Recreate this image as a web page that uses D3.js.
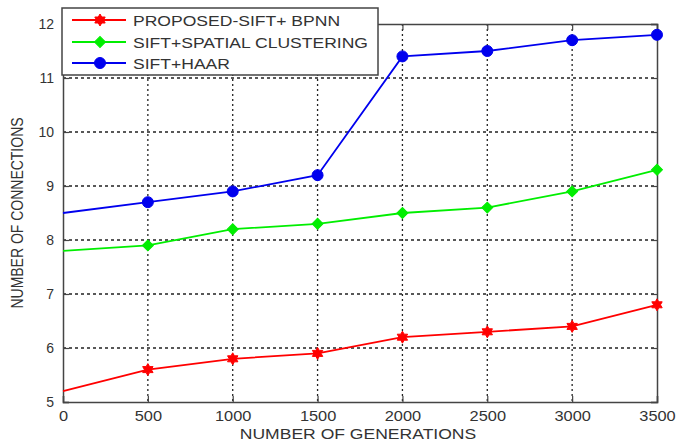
<!DOCTYPE html>
<html><head><meta charset="utf-8">
<script src="https://cdn.jsdelivr.net/npm/d3@7"></script>
<style>body{margin:0;background:#fff}svg{display:block}text{font-family:"Liberation Sans",Arial,sans-serif}</style>
</head><body>
<svg id="c" width="676" height="443"></svg>
<script>
const generations = [0, 500, 1000, 1500, 2000, 2500, 3000, 3500];
const proposedSiftBpnn = [5.2, 5.6, 5.8, 5.9, 6.2, 6.3, 6.4, 6.8];
const siftSpatialClustering = [7.8, 7.9, 8.2, 8.3, 8.5, 8.6, 8.9, 9.3];
const siftHaar = [8.5, 8.7, 8.9, 9.2, 11.4, 11.5, 11.7, 11.8];
const xTicks = [0, 500, 1000, 1500, 2000, 2500, 3000, 3500];
const yTicks = [5, 6, 7, 8, 9, 10, 11, 12];
const seriesNames = ["PROPOSED-SIFT+ BPNN", "SIFT+SPATIAL CLUSTERING", "SIFT+HAAR"];
const seriesColors = ["#ff0000", "#00ee00", "#0000ee"];
const seriesMarkers = ["hexagram", "diamond", "circle"];
const seriesValues = [proposedSiftBpnn, siftSpatialClustering, siftHaar];

const svg = d3.select("#c");
const L = 63, R = 657, T = 24, B = 402;
const SX = 1.17; // horizontal text stretch seen in the reference
const x = d3.scaleLinear().domain([0, 3500]).range([L, R]);
const y = d3.scaleLinear().domain([5, 12]).range([B, T]);
const axisCol = "#444";
const textCol = "#333";

// grid
svg.append("g").selectAll("line").data(xTicks.slice(1, -1)).join("line")
  .attr("x1", d => x(d)).attr("x2", d => x(d)).attr("y1", T).attr("y2", B)
  .attr("stroke", "#222").attr("stroke-width", 1.3).attr("stroke-dasharray", "2,3");
svg.append("g").selectAll("line").data(yTicks.slice(1, -1)).join("line")
  .attr("x1", L).attr("x2", R).attr("y1", d => y(d)).attr("y2", d => y(d))
  .attr("stroke", "#222").attr("stroke-width", 1.3).attr("stroke-dasharray", "3,3");

// axes
const xa = svg.append("g").attr("transform", `translate(0,${B})`)
  .call(d3.axisBottom(x).tickValues(xTicks).tickSize(-6).tickPadding(9).tickFormat(d3.format("d")));
const ya = svg.append("g").attr("transform", `translate(${L},0)`)
  .call(d3.axisLeft(y).tickValues(yTicks).tickSize(-6).tickPadding(9).tickFormat(d3.format("d")));
svg.append("g").attr("transform", `translate(0,${T})`)
  .call(d3.axisTop(x).tickValues(xTicks).tickSize(-6).tickFormat(""));
svg.append("g").attr("transform", `translate(${R},0)`)
  .call(d3.axisRight(y).tickValues(yTicks).tickSize(-6).tickFormat(""));
svg.selectAll(".domain").attr("stroke", axisCol).attr("stroke-width", 1.5);
svg.selectAll(".tick line").attr("stroke", axisCol).attr("stroke-width", 1.2);
svg.selectAll(".tick text").attr("fill", textCol).style("font-size", "14px");
xa.selectAll(".tick text").attr("transform", `scale(${SX},1)`);

// stretched text helper
function stext(parent, tx, ty, str, size, anchor) {
  return parent.append("text").attr("transform", `translate(${tx},${ty}) scale(${SX},1)`)
    .attr("text-anchor", anchor).attr("fill", textCol).style("font-size", size + "px").text(str);
}

// axis titles
stext(svg, 358, 439, "NUMBER OF GENERATIONS", 15, "middle");
svg.append("text").attr("transform", `translate(23,${(T + B) / 2}) scale(${SX},1) rotate(-90)`).attr("text-anchor", "middle")
  .attr("fill", textCol).style("font-size", "14px").text("NUMBER OF CONNECTIONS");

function hexagramPath(r) {
  const pts = [];
  for (let k = 0; k < 12; k++) {
    const a = -Math.PI / 2 + k * Math.PI / 6;
    const rr = k % 2 === 0 ? r : r / Math.sqrt(3);
    pts.push([rr * Math.cos(a), rr * Math.sin(a)]);
  }
  return d3.line()(pts) + "Z";
}
function marker(g, kind, color, cx, cy) {
  let d, tr = `translate(${cx},${cy})`;
  if (kind === "diamond") { d = d3.symbol().type(d3.symbolSquare).size(60)(); tr += " rotate(45)"; }
  else if (kind === "circle") d = d3.symbol().type(d3.symbolCircle).size(95)();
  else d = hexagramPath(6);
  g.append("path").attr("d", d).attr("transform", tr).attr("fill", color).attr("stroke", color).attr("stroke-width", 1);
}

const line = d3.line().x((d, i) => x(generations[i])).y(d => y(d));
seriesValues.forEach((vals, si) => {
  const g = svg.append("g");
  g.append("path").attr("d", line(vals)).attr("fill", "none")
    .attr("stroke", seriesColors[si]).attr("stroke-width", 1.8);
  vals.forEach((v, i) => { if (i > 0) marker(g, seriesMarkers[si], seriesColors[si], x(generations[i]), y(v)); });
});

// legend
const lg = svg.append("g");
lg.append("rect").attr("x", 62).attr("y", 8).attr("width", 316).attr("height", 67)
  .attr("fill", "#fff").attr("stroke", axisCol).attr("stroke-width", 1.5);
const rowsY = [20, 42, 63];
seriesNames.forEach((n, i) => {
  lg.append("line").attr("x1", 72).attr("x2", 126).attr("y1", rowsY[i]).attr("y2", rowsY[i])
    .attr("stroke", seriesColors[i]).attr("stroke-width", 1.8);
  marker(lg, seriesMarkers[i], seriesColors[i], 100, rowsY[i]);
  stext(lg, 133, rowsY[i] + 5.5, n, 15, "start");
});
</script>
</body></html>
